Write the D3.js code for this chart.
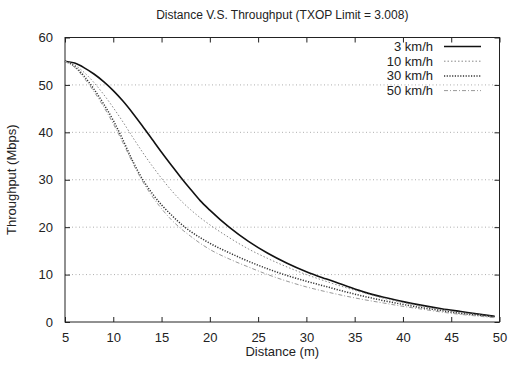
<!DOCTYPE html>
<html>
<head>
<meta charset="utf-8">
<script src="https://cdn.jsdelivr.net/npm/d3@7"></script>
<style>
  body { margin: 0; background: #fff; }
  svg text { font-family: "Liberation Sans", Arial, sans-serif; fill: #222; }
</style>
</head>
<body>
<div id="chart"></div>
<script>
// Values
const distances = [5, 6, 7, 8, 9, 10, 11, 12, 13, 14, 15, 16, 17, 18, 19, 20,
                   22, 24, 26, 28, 30, 32, 34, 36, 38, 40, 42, 44, 46, 48, 49.5];
const speeds = ['3 km/h', '10 km/h', '30 km/h', '50 km/h'];
const tput3 = [55.0, 54.6, 53.6, 52.3, 50.7, 48.8, 46.6, 44.1, 41.4, 38.6, 35.8, 33.1, 30.5, 28.0, 25.6, 23.6,
               20.0, 17.0, 14.5, 12.4, 10.6, 9.1, 7.7, 6.3, 5.2, 4.3, 3.5, 2.8, 2.2, 1.6, 1.2];
const tput10 = [55.0, 54.2, 52.6, 50.5, 48.0, 45.2, 42.2, 39.0, 35.9, 33.0, 30.3, 27.8, 25.6, 23.7, 22.0, 20.5,
                17.8, 15.4, 13.4, 11.6, 10.0, 8.6, 7.3, 6.1, 5.0, 4.1, 3.3, 2.6, 2.0, 1.5, 1.1];
const tput30 = [55.0, 53.9, 51.8, 49.1, 46.0, 42.5, 38.4, 34.0, 30.2, 27.2, 24.7, 22.6, 20.7, 19.1, 17.8, 16.6,
                14.6, 12.8, 11.2, 9.8, 8.6, 7.5, 6.4, 5.4, 4.5, 3.7, 3.0, 2.4, 1.8, 1.4, 1.1];
const tput50 = [55.0, 53.7, 51.4, 48.6, 45.4, 41.8, 37.8, 33.6, 29.8, 26.6, 23.9, 21.6, 19.7, 18.1, 16.6, 15.3,
                13.3, 11.6, 10.0, 8.6, 7.4, 6.4, 5.5, 4.7, 4.0, 3.3, 2.7, 2.1, 1.6, 1.2, 0.9];
const xTicks = [5, 10, 15, 20, 25, 30, 35, 40, 45, 50];
const yTicks = [0, 10, 20, 30, 40, 50, 60];

const W = 509, H = 366;
const margin = {top: 37.5, right: 9.5, bottom: 44, left: 65};
const iw = W - margin.left - margin.right;
const ih = H - margin.top - margin.bottom;

const series = [
  {name: speeds[0], values: tput3,  color: '#111', width: 1.6, dash: null},
  {name: speeds[1], values: tput10, color: '#888', width: 1,   dash: '1.5,2'},
  {name: speeds[2], values: tput30, color: '#333', width: 1.5, dash: '1.2,1.5'},
  {name: speeds[3], values: tput50, color: '#999', width: 1,   dash: '4,2,1,2'}
];

const svg = d3.select('#chart').append('svg')
    .attr('width', W).attr('height', H);

const g = svg.append('g').attr('transform', `translate(${margin.left},${margin.top})`);

const x = d3.scaleLinear().domain([5, 50]).range([0, iw]);
const y = d3.scaleLinear().domain([0, 60]).range([ih, 0]);

// Horizontal dotted grid
g.selectAll('line.grid').data(yTicks.filter(d => d > 0 && d < 60)).join('line')
    .attr('class', 'grid')
    .attr('x1', 0).attr('x2', iw)
    .attr('y1', d => y(d)).attr('y2', d => y(d))
    .attr('stroke', '#999').attr('stroke-width', 0.8)
    .attr('stroke-dasharray', '1,2.5');

// Axes with inward ticks, mirrored like gnuplot
const tick = 5;
g.append('g').attr('transform', `translate(0,${ih})`)
    .call(d3.axisBottom(x).tickValues(xTicks).tickSize(-tick).tickPadding(11).tickSizeOuter(0));
g.append('g')
    .call(d3.axisTop(x).tickValues(xTicks).tickSize(-tick).tickFormat('').tickSizeOuter(0));
g.append('g')
    .call(d3.axisLeft(y).tickValues(yTicks).tickSize(-tick).tickPadding(12).tickSizeOuter(0));
g.append('g').attr('transform', `translate(${iw},0)`)
    .call(d3.axisRight(y).tickValues(yTicks).tickSize(-tick).tickFormat('').tickSizeOuter(0));

g.selectAll('.domain').remove();
g.selectAll('.tick line').attr('stroke', '#222');
g.selectAll('.tick text').style('font-size', '13px').style('font-family', '"Liberation Sans", Arial, sans-serif').attr('fill', '#222');

g.append('rect')
    .attr('width', iw).attr('height', ih)
    .attr('fill', 'none').attr('stroke', '#222').attr('stroke-width', 1);

// Curves
const line = d3.line()
    .x((d, i) => x(distances[i]))
    .y(d => y(d))
    .curve(d3.curveMonotoneX);

g.selectAll('path.series').data(series).join('path')
    .attr('class', 'series')
    .attr('d', d => line(d.values))
    .attr('fill', 'none')
    .attr('stroke', d => d.color)
    .attr('stroke-width', d => d.width)
    .attr('stroke-dasharray', d => d.dash);

// Legend
const legend = g.selectAll('g.legend').data(series).join('g')
    .attr('class', 'legend')
    .attr('transform', (d, i) => `translate(0,${9 + i * 14.7})`);
legend.append('text')
    .attr('x', 368).attr('dy', '0.35em')
    .attr('text-anchor', 'end')
    .style('font-size', '13px')
    .text(d => d.name);
legend.append('line')
    .attr('x1', 379).attr('x2', 416)
    .attr('stroke', d => d.color)
    .attr('stroke-width', d => d.width)
    .attr('stroke-dasharray', d => d.dash);

// Titles
svg.append('text')
    .attr('x', margin.left + iw / 2).attr('y', 19)
    .attr('text-anchor', 'middle')
    .style('font-size', '12px')
    .text('Distance V.S. Throughput (TXOP Limit = 3.008)');

svg.append('text')
    .attr('x', margin.left + iw / 2).attr('y', 356)
    .attr('text-anchor', 'middle')
    .style('font-size', '13px')
    .text('Distance (m)');

svg.append('text')
    .attr('transform', `translate(16,${margin.top + ih / 2}) rotate(-90)`)
    .attr('text-anchor', 'middle')
    .style('font-size', '13px')
    .text('Throughput (Mbps)');
</script>
</body>
</html>
